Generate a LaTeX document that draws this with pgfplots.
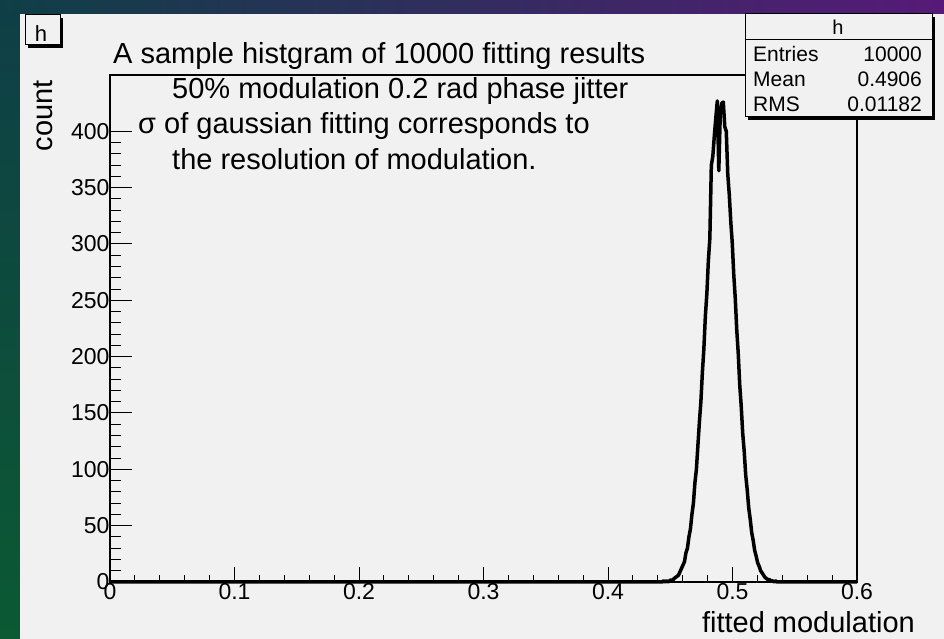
\documentclass[border=0pt]{standalone}
\usepackage{fontspec}
\setmainfont{Liberation Sans}
\usepackage{pgfplots}
\pgfplotsset{compat=1.18}

\definecolor{canvas}{HTML}{F1F1F1}
\definecolor{bgTL}{HTML}{0F3F46}
\definecolor{bgTM}{HTML}{1D2352}
\definecolor{bgTR}{HTML}{561A78}
\definecolor{bgBL}{HTML}{0B5A33}

\newcommand{\fs}[1]{\fontsize{#1}{#1}\selectfont}

% shared frame geometry of the histogram pad
\pgfplotsset{padframe/.style={
  at={(110pt,57pt)}, anchor=south west,
  scale only axis, width=747pt, height=507pt,
  xmin=0, xmax=0.6, ymin=0, ymax=450,
  clip=false, tick align=inside,
  /pgf/number format/assume math mode=true,
  /pgf/number format/fixed,
  ticklabel style={font=\fs{23}},
}}

\begin{document}
\begin{tikzpicture}[x=1pt,y=1pt]
\useasboundingbox (0,0) rectangle (944,639);
% desktop-style backdrop and the canvas
\shade[left color=bgTL, middle color=bgTM, right color=bgTR] (0,620) rectangle (944,639);
\shade[top color=bgTL, bottom color=bgBL] (0,0) rectangle (20,625);
\fill[canvas] (20,0) rectangle (944,625);

% x axis ticks and labels
\begin{axis}[padframe,
  axis line style={draw=none},
  ytick=\empty,
  xtick={0,0.1,0.2,0.3,0.4,0.5,0.6},
  minor x tick num=4, xtick pos=bottom,
  major tick length=15pt, minor tick length=7pt,
  xtick style={line width=1pt, black},
  xticklabel style={yshift=2pt},
]
\end{axis}

% frame, y axis and the histogram
\begin{axis}[padframe,
  axis line style={line width=1.2pt},
  xtick=\empty,
  ytick={0,50,100,150,200,250,300,350,400},
  minor y tick num=4, ytick pos=left,
  major tick length=22pt, minor tick length=11pt,
  ytick style={line width=1pt, black},
  yticklabel style={xshift=3pt},
]
\addplot[black, line width=3.5pt, line join=round] table {
x y
0.0000 0
0.4410 0
0.4422 0
0.4434 0
0.4446 1
0.4458 0
0.4470 1
0.4482 0
0.4494 1
0.4506 2
0.4518 1
0.4530 3
0.4542 4
0.4554 5
0.4566 6
0.4578 9
0.4590 12
0.4602 15
0.4614 18
0.4626 26
0.4638 30
0.4650 40
0.4662 47
0.4674 60
0.4686 70
0.4698 88
0.4710 100
0.4722 121
0.4734 142
0.4746 160
0.4758 186
0.4770 207
0.4782 236
0.4794 256
0.4806 285
0.4818 305
0.4830 370
0.4842 378
0.4854 396
0.4866 412
0.4878 427
0.4890 365
0.4902 417
0.4914 425
0.4926 426
0.4938 404
0.4950 400
0.4962 362
0.4974 344
0.4986 320
0.4998 301
0.5010 273
0.5022 252
0.5034 224
0.5046 203
0.5058 175
0.5070 156
0.5082 132
0.5094 116
0.5106 95
0.5118 82
0.5130 66
0.5142 56
0.5154 44
0.5166 37
0.5178 28
0.5190 23
0.5202 17
0.5214 14
0.5226 10
0.5238 8
0.5250 6
0.5262 4
0.5274 3
0.5286 2
0.5298 2
0.5310 1
0.5322 1
0.5334 0
0.5346 1
0.5358 0
0.5370 0
0.6000 0
};
\end{axis}

% axis titles
\node[rotate=90, anchor=base east, inner sep=0pt, font=\fs{29}] at (52,559) {count};
\node[anchor=base east, inner sep=0pt, font=\fs{29}] at (915,6) {fitted modulation};

% histogram title and comment lines
\node[anchor=base west, inner sep=0pt, font=\fs{29}] at (113,575) {A sample histgram of 10000 fitting results};
\node[anchor=base west, inner sep=0pt, font=\fs{29}] at (172,540) {50\% modulation 0.2 rad phase jitter};
\node[anchor=base west, inner sep=0pt, font=\fs{29}] at (138,505) {σ of gaussian fitting corresponds to};
\node[anchor=base west, inner sep=0pt, font=\fs{29}] at (172,469) {the resolution of modulation.};

% name tag of the histogram
\fill[black] (28,591) rectangle (63,621);
\filldraw[fill=canvas, draw=black, line width=1pt] (25,594) rectangle (60,624);
\node[anchor=base, inner sep=0pt, font=\fs{22}] at (41,597) {h};

% statistics box
\fill[black] (748,519) rectangle (935,622);
\filldraw[fill=canvas, draw=black, line width=1pt] (745,522) rectangle (932,625);
\draw[line width=1pt] (745,599) -- (932,599);
\node[anchor=base, inner sep=0pt, font=\fs{20}] at (838,604) {h};
\node[anchor=base west, inner sep=0pt, font=\fs{21}] at (753,577) {Entries};
\node[anchor=base east, inner sep=0pt, font=\fs{21}] at (922,577) {10000};
\node[anchor=base west, inner sep=0pt, font=\fs{21}] at (753,552) {Mean};
\node[anchor=base east, inner sep=0pt, font=\fs{21}] at (922,552) {0.4906};
\node[anchor=base west, inner sep=0pt, font=\fs{21}] at (753,527) {RMS};
\node[anchor=base east, inner sep=0pt, font=\fs{21}] at (922,527) {0.01182};
\end{tikzpicture}
\end{document}
